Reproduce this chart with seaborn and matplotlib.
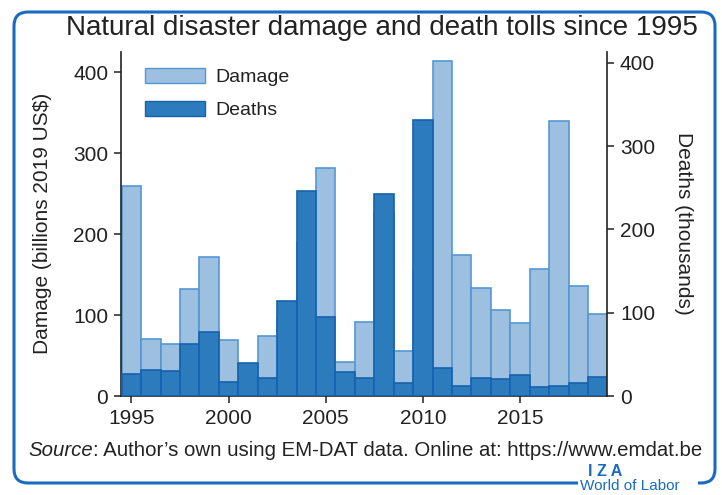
import matplotlib
matplotlib.use("Agg")
import matplotlib.pyplot as plt
from matplotlib.patches import Patch, FancyBboxPatch, Rectangle
import seaborn as sns
import pandas as pd

# data
years = list(range(1995, 2020))
damage = [260, 70, 64, 132, 172, 69, 35, 74, 95, 190, 282, 42, 92, 226, 56,
          156, 414, 174, 133, 106, 90, 157, 340, 136, 101]   # billions 2019 US$
deaths = [27, 31, 30, 63, 77, 17, 40, 22, 114, 246, 95, 29, 22, 243, 16,
          331, 34, 12, 22, 21, 25, 11, 12, 16, 23]           # thousands
year_ticks = [1995, 2000, 2005, 2010, 2015]
value_ticks = [0, 100, 200, 300, 400]

LIGHT, LIGHT_EDGE = "#9dc0e0", "#5597d3"
DARK, DARK_EDGE = "#2b7bbd", "#1662ae"
FRAME = "#1a6bbf"
TXT = "#222222"

sns.set_style("ticks")
plt.rcParams['font.family'] = ['Liberation Sans', 'DejaVu Sans']
plt.rcParams['text.color'] = TXT
plt.rcParams['axes.labelcolor'] = TXT
plt.rcParams['xtick.color'] = TXT
plt.rcParams['ytick.color'] = TXT

df = pd.DataFrame({"year": years, "damage": damage, "deaths": deaths})

W, H = 722, 495
fig = plt.figure(figsize=(W / 100, H / 100), dpi=100)
ax = fig.add_axes([120.7 / W, 1 - 396 / H, (607.4 - 120.7) / W, (396 - 51.7) / H])

sns.barplot(data=df, x="year", y="damage", native_scale=True, width=1,
            color=LIGHT, saturation=1, edgecolor=LIGHT_EDGE, linewidth=1.2,
            errorbar=None, ax=ax)
ax2 = ax.twinx()
sns.barplot(data=df, x="year", y="deaths", native_scale=True, width=1,
            color=DARK, saturation=1, edgecolor=DARK_EDGE, linewidth=1.2,
            errorbar=None, ax=ax2)

ax.set_xlim(1994.45, 2019.5)
ax.set_ylim(0, 425.5)
ax2.set_ylim(0, 413.2)
ax.set_xticks(year_ticks)
ax.set_yticks(value_ticks)
ax2.set_yticks(value_ticks)

for a in (ax, ax2):
    a.spines['top'].set_visible(False)
    for s in a.spines.values():
        s.set_linewidth(1.2)
        s.set_color(TXT)
    a.tick_params(labelsize=15, length=5, width=1.1, pad=4)
ax.spines['right'].set_visible(False)
ax2.spines['left'].set_visible(False)
ax2.spines['bottom'].set_visible(False)

ax.set_xlabel("")
ax.set_ylabel("Damage (billions 2019 US$)", fontsize=15, va="center")
ax.yaxis.set_label_coords((43 - 120.7) / 486.7, 0.5)
ax2.set_ylabel("Deaths (thousands)", fontsize=15, rotation=270, va="center")
ax2.yaxis.set_label_coords((684 - 120.7) / 486.7, 0.5)

handles = [Patch(facecolor=LIGHT, edgecolor=LIGHT_EDGE, label="Damage"),
           Patch(facecolor=DARK, edgecolor=DARK_EDGE, label="Deaths")]
ax2.legend(handles=handles, loc="upper left", frameon=False, fontsize=14,
           bbox_to_anchor=(145 / W, 1 - 68 / H), bbox_transform=fig.transFigure,
           borderpad=0, borderaxespad=0, handlelength=3.1, handleheight=0.8,
           handletextpad=0.5, labelspacing=0.75)

fig.text(382 / W, 1 - 28 / H, "Natural disaster damage and death tolls since 1995",
         fontsize=20, ha="center", va="center")

src = fig.text(28 / W, 1 - 451 / H, "Source", fontsize=14.7, style="italic",
               ha="left", va="center")
fig.add_artist(plt.Annotation(
    ": Author\u2019s own using EM-DAT data. Online at: https://www.emdat.be",
    xy=(1, 0), xycoords=src, fontsize=14.7, ha="left", va="bottom"))

# rounded frame with a gap for the logo
frame = FancyBboxPatch((14, 12), 701, 471, boxstyle="round,pad=0,rounding_size=14",
                       transform=None, fill=False, edgecolor=FRAME, linewidth=2.2)
fig.add_artist(frame)
fig.add_artist(Rectangle((578, 0), 120, 20, transform=None, facecolor="white",
                         edgecolor="none"))
fig.text(588 / W, 1 - 472 / H, "I Z A", fontsize=11.5, fontweight="bold",
         color=FRAME, ha="left", va="center")
fig.text(580 / W, 1 - 486 / H, "World of Labor", fontsize=11,
         color=FRAME, ha="left", va="center")

fig.savefig("out.png", dpi=100)
